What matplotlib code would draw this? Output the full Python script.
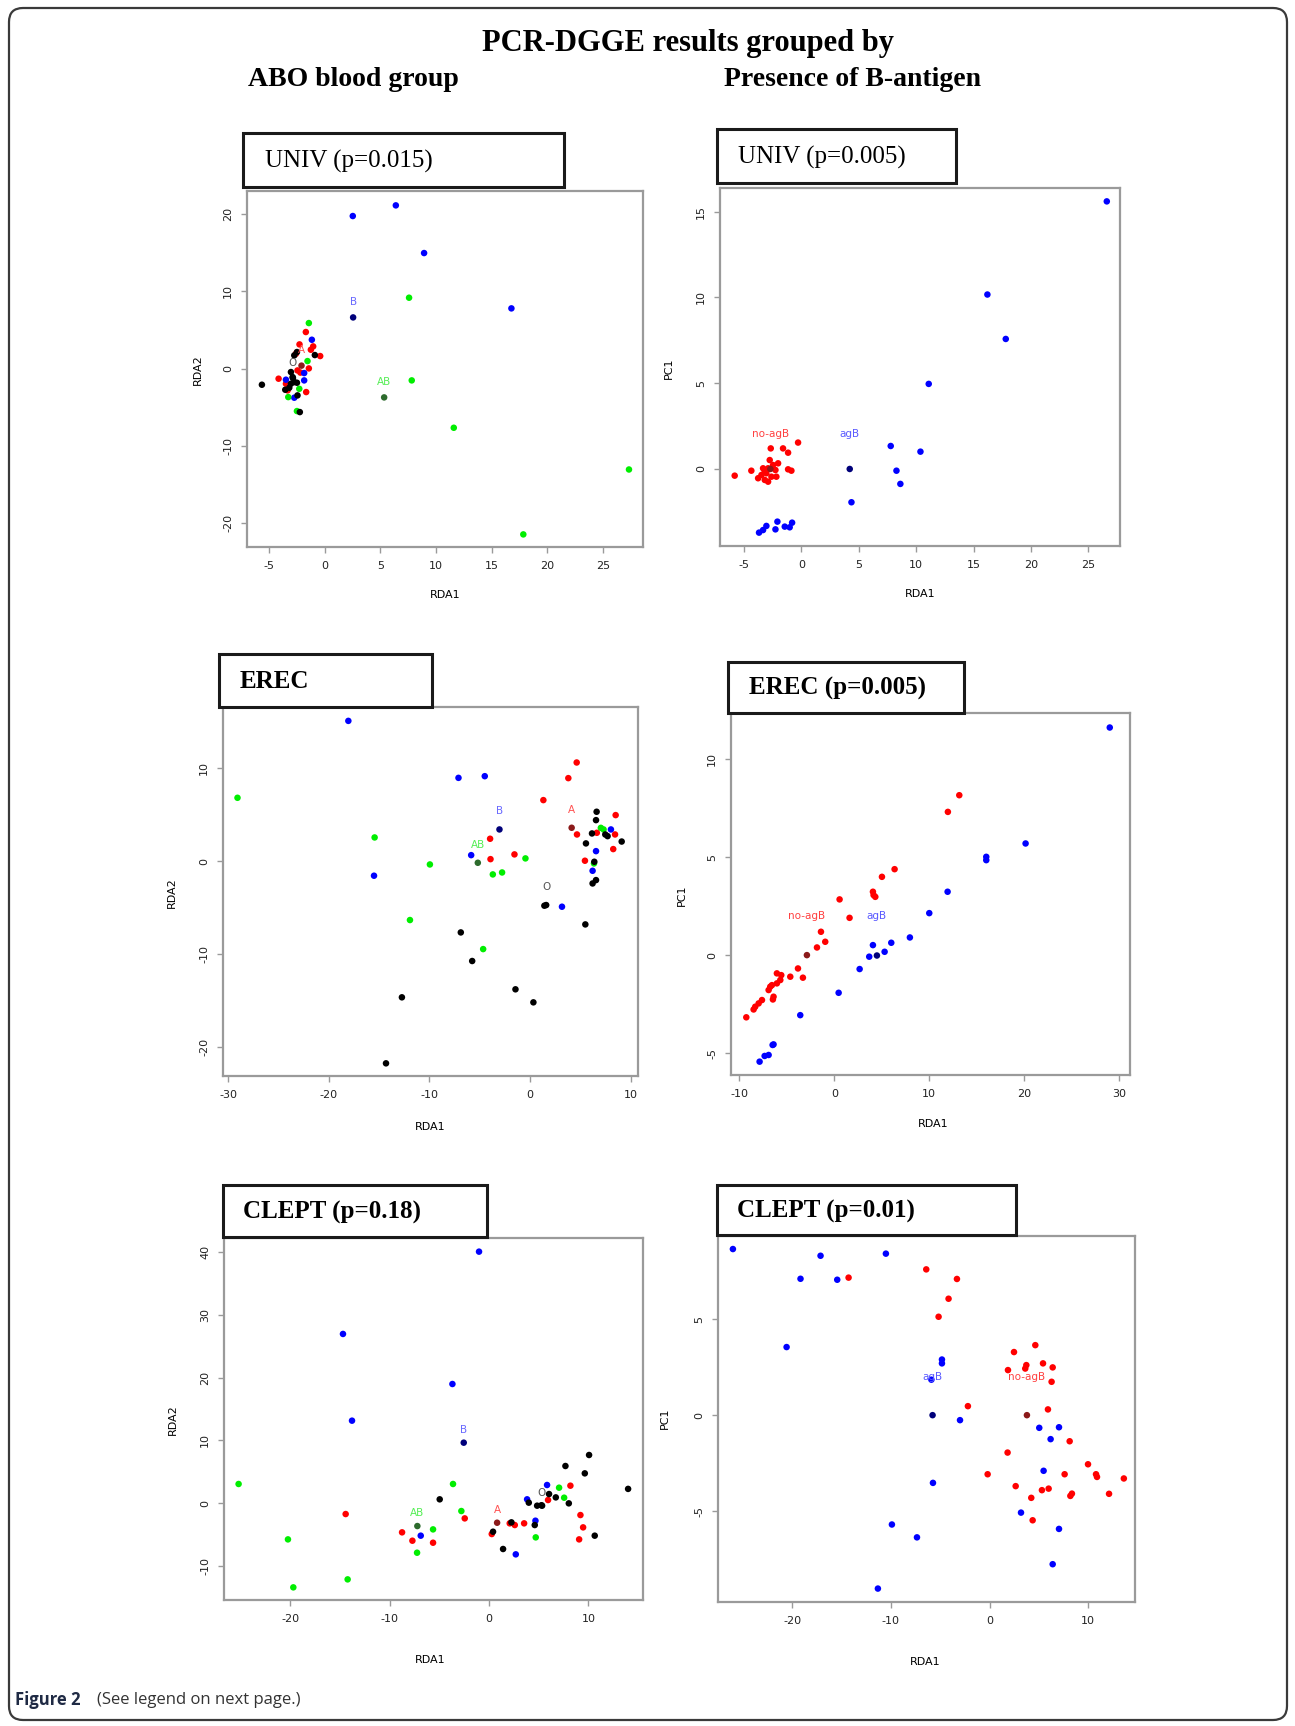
import matplotlib
matplotlib.use("Agg")
import matplotlib.pyplot as plt
from matplotlib.patches import Rectangle, FancyBboxPatch

W, H = 1295, 1726

# ---- UNIV, ABO blood group (RDA1 / RDA2)
univ_abo_A = [(-1.71, 4.75), (-2.28, 3.15), (-1.05, 2.89), (-1.26, 2.46), (-0.42, 1.64), (-1.44, 0.04),
              (-4.16, -1.29), (-1.68, -3.02), (-2.46, -0.22), (-2.2, -0.5), (-3.5, -1.94), (-3.35, -2.8), (-2.6, 1.94)]
univ_abo_B = [(2.51, 19.76), (6.38, 21.14), (8.92, 14.97), (16.77, 7.81), (-1.17, 3.75), (-1.86, -0.56),
              (-1.86, -1.51), (-3.5, -1.42), (-2.75, -3.75)]
univ_abo_AB = [(7.57, 9.19), (7.81, -1.51), (11.59, -7.64), (17.84, -21.44), (27.34, -13.04), (-1.44, 5.91),
               (-1.56, 0.99), (-3.29, -3.67), (-2.51, -5.48), (-2.3, -2.6)]
univ_abo_O = [(-5.66, -2.07), (-2.51, 2.16), (-2.75, 1.73), (-0.9, 1.77), (-3.05, -0.43), (-2.9, -1.08),
              (-2.75, -1.73), (-3.56, -2.72), (-3.2, -2.46), (-2.46, -3.45), (-2.25, -5.61), (-2.51, -1.81),
              (-3.05, -1.94)]
univ_abo_centroids = {"A": (-2.1, 0.4), "B": (2.54, 6.64), "AB": (5.33, -3.71), "O": (-2.87, -1.2)}

# ---- UNIV, presence of B-antigen (RDA1 / PC1)
univ_b_no = [(-5.81, -0.39), (-4.36, -0.1), (-2.67, 1.2), (-1.6, 1.2), (-1.16, 0.95), (-0.29, 1.54), (-0.87, -0.1),
             (-1.16, -0.02), (-3.77, -0.54), (-3.48, -0.35), (-3.19, -0.16), (-2.9, 0.04), (-2.76, 0.52),
             (-2.47, 0.23), (-2.26, -0.06), (-2.61, -0.45), (-2.9, -0.74), (-3.19, -0.64), (-2.18, -0.45),
             (-2.03, 0.33), (-3.34, 0.04), (-3.05, -0.25)]
univ_b_ag = [(16.2, 10.17), (17.8, 7.58), (11.09, 4.96), (7.78, 1.34), (10.37, 1.01), (8.28, -0.1), (8.62, -0.87),
             (4.36, -1.94), (-3.69, -3.71), (-3.34, -3.56), (-3.05, -3.32), (-2.26, -3.52), (-2.09, -3.07),
             (-1.45, -3.36), (-1.02, -3.4), (-0.81, -3.13), (26.6, 15.6)]
univ_b_centroids = {"no-agB": (-2.7, 0.0), "agB": (4.21, 0.0)}

# ---- EREC, ABO blood group
erec_abo_A = [(4.63, 10.59), (3.8, 8.91), (1.32, 6.55), (-3.97, 2.4), (-3.93, 0.21), (-1.55, 0.72), (4.66, 2.86),
              (5.45, 0.04), (8.5, 4.94), (8.44, 2.86), (8.26, 1.29), (6.63, 3.04)]
erec_abo_B = [(-18.05, 15.06), (-7.11, 8.94), (-4.5, 9.12), (-5.85, 0.64), (-15.5, -1.57), (3.17, -4.9),
              (6.55, 1.07), (6.21, -1.04), (8.03, 3.4)]
erec_abo_AB = [(-29.06, 6.8), (-15.44, 2.54), (-9.95, -0.36), (-3.7, -1.43), (-2.78, -1.22), (-0.46, 0.29),
               (-11.93, -6.33), (-4.66, -9.45), (7.03, 3.57), (7.3, 3.4), (6.35, -0.25)]
erec_abo_O = [(-6.88, -7.66), (-5.75, -10.73), (-12.73, -14.63), (-14.31, -21.72), (-1.45, -13.77), (0.33, -15.17),
              (1.42, -4.79), (5.49, -6.8), (5.55, 1.9), (6.15, 2.97), (6.55, 4.4), (6.61, 5.3), (6.38, -0.07),
              (6.21, -2.4), (6.55, -2.04), (7.47, 2.86), (7.7, 2.68), (9.1, 2.1)]
erec_abo_centroids = {"A": (4.13, 3.58), "B": (-3.04, 3.4), "AB": (-5.19, -0.18), "O": (1.6, -4.72)}

# ---- EREC, presence of B-antigen
erec_b_no = [(-9.26, -3.17), (-8.49, -2.77), (-8.32, -2.63), (-7.96, -2.46), (-7.61, -2.29), (-6.91, -1.78),
             (-6.74, -1.61), (-6.39, -2.12), (-6.46, -2.26), (-6.04, -1.44), (-5.68, -1.27), (-5.58, -1.02),
             (-6.04, -0.93), (-6.56, -1.53), (-4.63, -1.1), (-3.82, -0.68), (-3.3, -1.15), (-1.82, 0.39),
             (-1.4, 1.19), (-0.95, 0.68), (0.56, 2.84), (1.61, 1.9), (4.07, 3.23), (4.14, 3.06), (4.32, 2.97),
             (5.02, 3.99), (6.35, 4.38), (11.96, 7.3), (13.16, 8.15)]
erec_b_ag = [(-7.86, -5.43), (-7.33, -5.14), (-6.91, -5.09), (-6.49, -4.58), (-6.39, -4.55), (-3.58, -3.06),
             (0.46, -1.92), (2.67, -0.71), (3.68, -0.08), (4.07, 0.51), (5.3, 0.17), (6.0, 0.63), (7.96, 0.9),
             (10.0, 2.14), (11.93, 3.23), (16.0, 5.01), (16.0, 4.84), (20.14, 5.69), (29.0, 11.6)]
erec_b_centroids = {"no-agB": (-2.88, 0.0), "agB": (4.49, -0.02)}

# ---- CLEPT, ABO blood group
clept_abo_A = [(-14.44, -1.7), (-8.76, -4.61), (-7.72, -5.94), (-5.64, -6.26), (-2.45, -2.39), (0.27, -4.88),
               (2.08, -3.18), (2.59, -3.45), (3.53, -3.18), (5.94, 0.53), (8.19, 2.81), (9.2, -1.86),
               (9.47, -3.82), (9.07, -5.73)]
clept_abo_B = [(-1.01, 40.03), (-14.71, 26.94), (-3.69, 18.98), (-13.8, 13.15), (-6.88, -5.14), (2.69, -8.11),
               (3.83, 0.64), (4.67, -2.76), (5.84, 2.92)]
clept_abo_AB = [(-25.22, 3.08), (-20.25, -5.73), (-19.71, -13.36), (-14.24, -12.09), (-7.25, -7.85), (-5.64, -4.14),
                (-3.63, 3.08), (-2.79, -1.22), (4.7, -5.41), (7.05, 2.49), (7.56, 0.9)]
clept_abo_O = [(-4.97, 0.64), (0.4, -4.51), (1.41, -7.26), (2.25, -3.02), (4.0, 0.11), (4.6, -3.45), (4.84, -0.37),
               (5.34, -0.37), (6.04, 1.48), (6.72, 0.95), (8.03, 0.0), (7.69, 5.94), (9.64, 4.77), (10.07, 7.69),
               (10.64, -5.14), (14.0, 2.3)]
clept_abo_centroids = {"A": (0.81, -3.08), "B": (-2.55, 9.65), "AB": (-7.22, -3.61), "O": (5.27, -0.3)}

# ---- CLEPT, presence of B-antigen
clept_b_ag = [(-26.01, 8.66), (-17.13, 8.31), (-10.51, 8.42), (-19.16, 7.11), (-15.44, 7.06), (-20.57, 3.55),
              (-4.83, 2.9), (-4.83, 2.7), (-5.9, 1.85), (-3.0, -0.26), (-5.74, -3.53), (-9.9, -5.7), (-7.36, -6.37),
              (-11.32, -9.04), (5.03, -0.66), (7.03, -0.63), (6.18, -1.25), (5.47, -2.9), (3.18, -5.08),
              (7.03, -5.93), (6.39, -7.77)]
clept_b_no = [(-14.29, 7.17), (-6.42, 7.6), (-3.31, 7.1), (-4.16, 6.07), (-5.17, 5.13), (-2.2, 0.47), (2.47, 3.29),
              (4.63, 3.65), (1.86, 2.35), (3.72, 2.61), (3.61, 2.43), (5.41, 2.7), (6.39, 2.49), (6.28, 1.74),
              (5.91, 0.3), (8.11, -1.36), (1.82, -1.95), (-0.2, -3.08), (2.64, -3.7), (4.22, -4.31), (5.3, -3.91),
              (5.98, -3.83), (7.6, -3.08), (8.18, -4.21), (8.34, -4.09), (4.36, -5.48), (9.97, -2.56),
              (10.78, -3.08), (10.88, -3.22), (12.1, -4.1), (13.6, -3.3)]
clept_b_centroids = {"agB": (-5.78, 0.0), "no-agB": (3.78, 0.0)}

# colours: point, centroid, label
abo_colors = {"A": ("#ff0000", "#8b1a1a", "#ff5050"), "B": ("#0000ff", "#00007a", "#6a6aff"),
              "AB": ("#00ee00", "#2d6b2d", "#55ee55"), "O": ("#000000", "#000000", "#555555")}
agb_colors = {"no-agB": ("#ff0000", "#8b1a1a", "#ff4040"), "agB": ("#0000ff", "#00007a", "#5a5aff")}


def px_axes(fig, left, top, right, bottom):
    return fig.add_axes([left / W, 1 - bottom / H, (right - left) / W, (bottom - top) / H])


def ptext(fig, x, y, s, **kw):
    return fig.text(x / W, 1 - y / H, s, **kw)


def title_box(fig, box, text, text_x, weight):
    l, t, r, b = box
    fig.patches.append(Rectangle((l / W, 1 - b / H), (r - l) / W, (b - t) / H, transform=fig.transFigure,
                                 fc="white", ec="#1a1a1a", lw=2.2, zorder=5))
    ptext(fig, text_x, (t + b) / 2 + 1, text, family="Liberation Serif", fontsize=18, weight=weight,
          va="center", ha="left", zorder=6)


def scatter_panel(ax, groups, colors, centroids, label_dy):
    for name, pts in groups:
        xs = [p[0] for p in pts]
        ys = [p[1] for p in pts]
        ax.scatter(xs, ys, s=22, c=colors[name][0], edgecolors="none", zorder=3)
    for name, (cx, cy) in centroids.items():
        ax.scatter([cx], [cy], s=22, c=colors[name][1], edgecolors="none", zorder=4)
        ax.text(cx, cy + label_dy, name, color=colors[name][2], fontsize=7.5, ha="center", va="center", zorder=5)


def style_axes(ax, xlim, ylim, xticks, yticks):
    ax.set_xlim(*xlim)
    ax.set_ylim(*ylim)
    ax.set_xticks(xticks)
    ax.set_yticks(yticks)
    ax.set_xticklabels([str(v) for v in xticks])
    ax.set_yticklabels([str(v) for v in yticks], rotation=90, va="center")
    for sp in ax.spines.values():
        sp.set_color("#9a9a9a")
        sp.set_linewidth(1.6)
    ax.tick_params(length=4, width=1, color="#9a9a9a", labelsize=8, labelcolor="#222222", pad=6)


fig = plt.figure(figsize=(W / 100, H / 100), dpi=100)

# outer rounded frame
fig.add_artist(FancyBboxPatch((9 / 100, 6 / 100), 1278 / 100, 1712 / 100,
                              boxstyle="round,pad=0,rounding_size=0.14", transform=fig.dpi_scale_trans,
                              fill=False, ec="#3a3a3a", lw=1.6))

ptext(fig, 688, 43, "PCR-DGGE results grouped by", family="Liberation Serif", weight="bold", fontsize=22,
      ha="center", va="center")
ptext(fig, 353, 80, "ABO blood group", family="Liberation Serif", weight="bold", fontsize=20,
      ha="center", va="center")
ptext(fig, 853, 80, "Presence of B-antigen", family="Liberation Serif", weight="bold", fontsize=20,
      ha="center", va="center")

abo_order = ["A", "B", "AB", "O"]

# --- top left
ax = px_axes(fig, 247, 191, 643, 547)
scatter_panel(ax, list(zip(abo_order, [univ_abo_A, univ_abo_B, univ_abo_AB, univ_abo_O])),
              abo_colors, univ_abo_centroids, 2.0)
style_axes(ax, (-7.0, 28.6), (-23.07, 23.0), [-5, 0, 5, 10, 15, 20, 25], [-20, -10, 0, 10, 20])
title_box(fig, (243, 133, 564, 187), "UNIV (p=0.015)", 265, "normal")
ptext(fig, 198, 370, "RDA2", rotation=90, fontsize=8, ha="center", va="center")
ptext(fig, 445, 595, "RDA1", fontsize=8, ha="center", va="center")

# --- top right
ax = px_axes(fig, 720, 188, 1120, 546)
scatter_panel(ax, [("no-agB", univ_b_no), ("agB", univ_b_ag)], agb_colors, univ_b_centroids, 2.04)
style_axes(ax, (-7.09, 27.75), (-4.49, 16.38), [-5, 0, 5, 10, 15, 20, 25], [0, 5, 10, 15])
title_box(fig, (717, 129, 956, 183), "UNIV (p=0.005)", 738, "normal")
ptext(fig, 669, 368, "PC1", rotation=90, fontsize=8, ha="center", va="center")
ptext(fig, 920, 594, "RDA1", fontsize=8, ha="center", va="center")

# --- middle left
ax = px_axes(fig, 223, 707, 638, 1076)
scatter_panel(ax, list(zip(abo_order, [erec_abo_A, erec_abo_B, erec_abo_AB, erec_abo_O])),
              abo_colors, erec_abo_centroids, 1.95)
style_axes(ax, (-30.5, 10.72), (-23.08, 16.55), [-30, -20, -10, 0, 10], [-20, -10, 0, 10])
title_box(fig, (219, 654, 432, 707), "EREC", 240, "bold")
ptext(fig, 172, 893, "RDA2", rotation=90, fontsize=8, ha="center", va="center")
ptext(fig, 430, 1127, "RDA1", fontsize=8, ha="center", va="center")

# --- middle right
ax = px_axes(fig, 731, 713, 1130, 1075)
scatter_panel(ax, [("no-agB", erec_b_no), ("agB", erec_b_ag)], agb_colors, erec_b_centroids, 2.0)
style_axes(ax, (-10.87, 31.13), (-6.11, 12.34), [-10, 0, 10, 20, 30], [-5, 0, 5, 10])
title_box(fig, (728, 662, 964, 713), "EREC (p=0.005)", 749, "bold")
ptext(fig, 682, 895, "PC1", rotation=90, fontsize=8, ha="center", va="center")
ptext(fig, 933, 1124, "RDA1", fontsize=8, ha="center", va="center")

# --- bottom left
ax = px_axes(fig, 224, 1238, 643, 1600)
scatter_panel(ax, list(zip(abo_order, [clept_abo_A, clept_abo_B, clept_abo_AB, clept_abo_O])),
              abo_colors, clept_abo_centroids, 2.0)
style_axes(ax, (-26.69, 15.5), (-15.37, 42.2), [-20, -10, 0, 10], [-10, 0, 10, 20, 30, 40])
title_box(fig, (223, 1185, 487, 1237), "CLEPT (p=0.18)", 243, "bold")
ptext(fig, 173, 1420, "RDA2", rotation=90, fontsize=8, ha="center", va="center")
ptext(fig, 430, 1660, "RDA1", fontsize=8, ha="center", va="center")

# --- bottom right
ax = px_axes(fig, 718, 1236, 1135, 1602)
scatter_panel(ax, [("no-agB", clept_b_no), ("agB", clept_b_ag)], agb_colors, clept_b_centroids, 2.0)
style_axes(ax, (-27.52, 14.73), (-9.74, 9.34), [-20, -10, 0, 10], [-5, 0, 5])
title_box(fig, (717, 1185, 1016, 1235), "CLEPT (p=0.01)", 737, "bold")
ptext(fig, 665, 1418, "PC1", rotation=90, fontsize=8, ha="center", va="center")
ptext(fig, 925, 1662, "RDA1", fontsize=8, ha="center", va="center")

# caption
ptext(fig, 15, 1700, "Figure 2", family="Open Sans", weight="bold", fontsize=12, ha="left", va="center",
      color="#1f2a44")
ptext(fig, 97, 1700, "(See legend on next page.)", family="Open Sans", fontsize=12, ha="left", va="center",
      color="#333333")

fig.savefig("out.png", dpi=100)
